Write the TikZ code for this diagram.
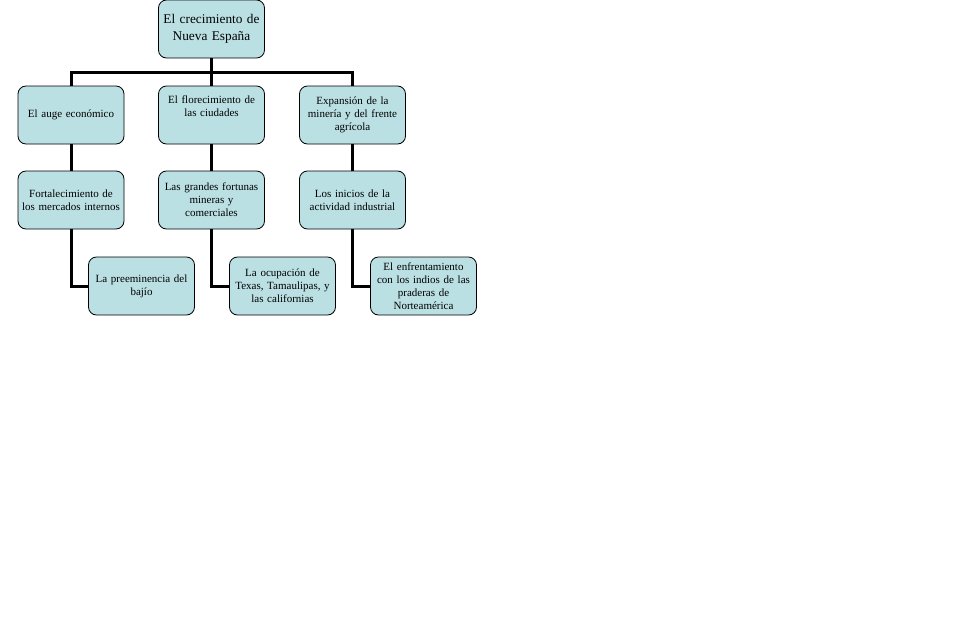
\documentclass[tikz,border=0pt]{standalone}
\usepackage{fontspec}
\setmainfont{Liberation Serif}
\definecolor{boxfill}{RGB}{187,224,227}
\begin{document}
\begin{tikzpicture}[x=1pt,y=-1pt,
  orgbox/.style={draw=black, line width=0.8pt, fill=boxfill, rounded corners=8pt,
    minimum width=106pt, minimum height=58pt, text width=104pt, align=center,
    inner sep=0pt, font=\fontsize{11}{13}\selectfont},
  topbox/.style={orgbox, font=\fontsize{13.3}{16.5}\selectfont},
  conn/.style={line width=3pt, black}]
\useasboundingbox (0,0) rectangle (959,640);
\coordinate (bar) at (211.5,72);
\node[topbox] (top) at (211.5,29) {El crecimiento de\\Nueva España};
\node[orgbox] (a1) at (71,115) {El auge económico};
\node[orgbox] (b1) at (211.5,115) {El florecimiento de\\las ciudades\\\strut};
\node[orgbox] (c1) at (352.5,115) {Expansión de la\\minería y del frente\\agrícola};
\node[orgbox] (a2) at (71,200) {Fortalecimiento de\\los mercados internos};
\node[orgbox] (b2) at (211.5,200) {Las grandes fortunas\\mineras y\\comerciales};
\node[orgbox] (c2) at (352.5,200) {Los inicios de la\\actividad industrial};
\node[orgbox] (a3) at (141.5,286) {La preeminencia del\\bajío};
\node[orgbox] (b3) at (282.5,286) {La ocupación de\\Texas, Tamaulipas, y\\las californias};
\node[orgbox] (c3) at (423.5,286) {El enfrentamiento\\con los indios de las\\praderas de\\Norteamérica};
\draw[conn] (top.south) -- (bar);
\draw[conn] (a1.north) |- (bar) -| (c1.north);
\draw[conn] (bar) -- (b1.north);
\draw[conn] (a1.south) -- (a2.north);
\draw[conn] (b1.south) -- (b2.north);
\draw[conn] (c1.south) -- (c2.north);
\draw[conn] (a2.south) |- (a3.west);
\draw[conn] (b2.south) |- (b3.west);
\draw[conn] (c2.south) |- (c3.west);
\end{tikzpicture}
\end{document}
